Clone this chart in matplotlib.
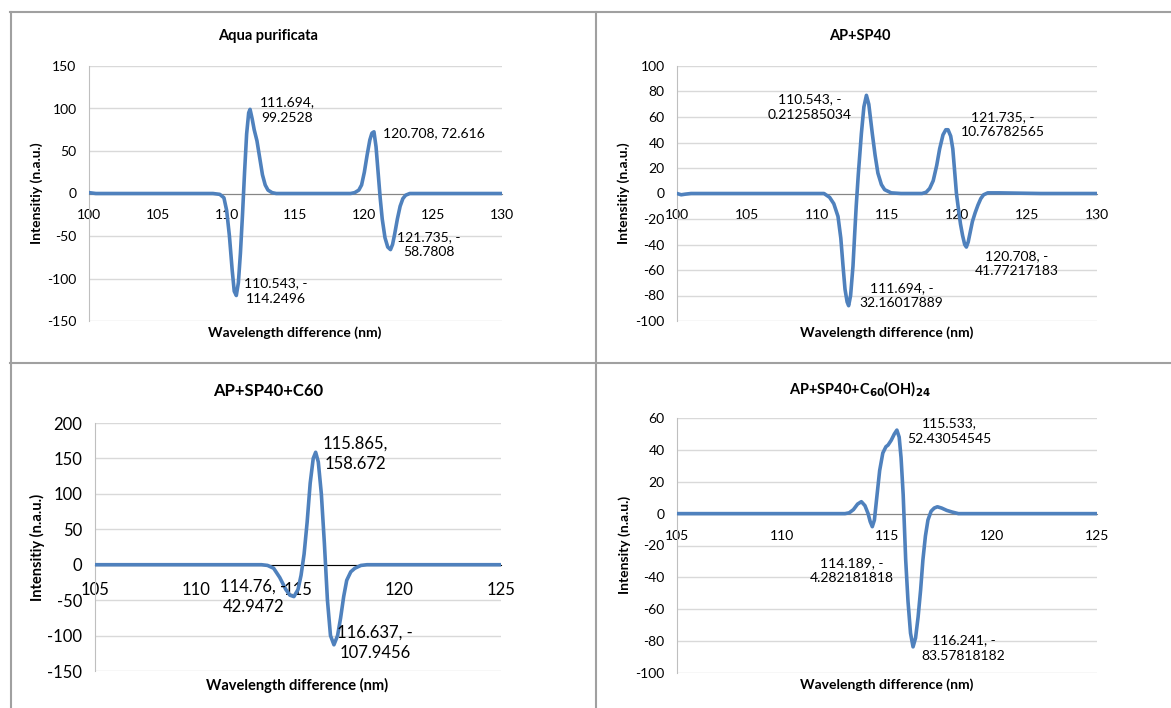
import matplotlib
matplotlib.use("Agg")
import matplotlib.pyplot as plt
from matplotlib.lines import Line2D

plt.rcParams['font.family'] = ['Lato', 'DejaVu Sans']
plt.rcParams['axes.unicode_minus'] = False

W, H = 1171, 708

# ---- data ----
aqua_x = [100, 100.5, 101, 102, 105, 108, 109, 109.5, 109.8, 110.0, 110.2, 110.4, 110.55, 110.7,
          110.85, 111.0, 111.15, 111.3, 111.45, 111.6, 111.7, 111.85, 112.0, 112.2, 112.4, 112.6,
          112.8, 113.0, 113.3, 113.6, 114, 116, 118, 119.0, 119.3, 119.6, 119.8, 120.0, 120.2, 120.4,
          120.55, 120.7, 120.85, 121.0, 121.15, 121.3, 121.5, 121.7, 121.9, 122.05, 122.2, 122.4,
          122.6, 122.8, 123.0, 123.3, 123.6, 124, 127, 130]
aqua_y = [1, 0, 0, 0, 0, 0, 0, -1, -5, -20, -50, -90, -115, -120,
          -105, -70, -25, 25, 70, 95, 99, 88, 75, 62, 42, 22,
          10, 4, 1, 0, 0, 0, 0, 0, 1, 4, 10, 25, 45, 63,
          71, 72.6, 55, 25, -5, -30, -52, -63, -66, -60, -48, -30,
          -15, -6, -2, 0, 0, 0, 0, 0]

sp40_x = [100, 100.3, 100.6, 101, 103, 106, 109, 110.5, 110.9, 111.2, 111.5, 111.7, 111.86, 112.0,
          112.15, 112.26, 112.4, 112.57, 112.7, 112.8, 112.95, 113.17, 113.35, 113.53, 113.7, 113.95,
          114.15, 114.35, 114.6, 114.83, 115.3, 116, 117.5, 117.8, 118.05, 118.3, 118.55, 118.76,
          119.0, 119.2, 119.36, 119.55, 119.7, 119.85, 119.96, 120.1, 120.25, 120.4, 120.55, 120.67,
          120.8, 120.95, 121.1, 121.3, 121.5, 121.7, 121.9, 122.2, 123, 126, 130]
sp40_y = [0, -1, -0.5, 0, 0, 0, 0, 0, -3, -8, -18, -35, -57, -75,
          -85, -88, -80, -57, -30, -10, 15, 47, 68, 77, 70, 47,
          30, 16, 7, 3, 0.5, 0, 0, 1, 4, 10, 22, 35,
          46, 50, 50, 45, 35, 15, 0, -12, -24, -33, -40, -42,
          -38, -30, -22, -15, -9, -4, -1, 0.5, 0.5, 0, 0]

c60_x = [105, 108, 111, 113.2, 113.5, 113.8, 114.1, 114.4, 114.6, 114.8, 115.0, 115.15, 115.3,
         115.45, 115.6, 115.75, 115.87, 116.0, 116.15, 116.3, 116.45, 116.6, 116.77, 116.95, 117.1,
         117.25, 117.4, 117.6, 117.8, 118.1, 118.4, 120, 122, 125]
c60_y = [0, 0, 0, 0, -1, -5, -18, -35, -43, -45, -35, -15, 15,
         60, 115, 150, 158.7, 145, 100, 30, -50, -100, -113, -100, -75,
         -45, -22, -10, -5, -1, 0, 0, 0, 0]

oh_x = [105, 108, 111, 113.0, 113.2, 113.4, 113.6, 113.78, 113.95, 114.1, 114.2, 114.3, 114.4,
        114.5, 114.65, 114.8, 114.95, 115.05, 115.2, 115.35, 115.47, 115.58, 115.67, 115.77, 115.89,
        116.0, 116.12, 116.24, 116.36, 116.48, 116.6, 116.71, 116.83, 116.95, 117.1, 117.25, 117.4,
        117.6, 117.85, 118.1, 118.4, 119, 122, 125]
oh_y = [0, 0, 0, 0, 0.5, 2.5, 6, 7.5, 5, 0, -5, -8.2, -4,
        8.5, 27, 38, 42, 43, 46, 50, 52.4, 48, 35, 12, -29,
        -55, -75, -83.6, -78, -65, -48, -29, -14, -4, 1.5, 3.5, 4.3,
        3.5, 2, 1, 0, 0, 0, 0]

# data labels: (text, x, y)
aqua_labels = [("111.694,\n99.2528", 114.4, 98), ("120.708, 72.616", 125.05, 71),
               ("110.543, -\n114.2496", 113.56, -115), ("121.735, -\n58.7808", 124.7, -60)]
sp40_labels = [("110.543, -\n0.212585034", 109.48, 68), ("111.694, -\n32.16017889", 116.03, -80),
               ("121.735, -\n10.76782565", 123.29, 54), ("120.708, -\n41.77217183", 124.24, -55)]
c60_labels = [("115.865,\n158.672", 117.84, 156), ("114.76, -\n42.9472", 112.8, -45),
              ("116.637, -\n107.9456", 118.81, -110)]
oh_labels = [("115.533,\n52.43054545", 117.99, 51.6), ("114.189, -\n4.282181818", 113.3, -35.8),
             ("116.241, -\n83.57818182", 118.65, -84.3)]

fig = plt.figure(figsize=(W / 100, H / 100), dpi=100)


def box(x0, y0, x1, y1):
    return [x0 / W, 1 - y1 / H, (x1 - x0) / W, (y1 - y0) / H]


def panel(rect, xs, ys, xlim, xticks, ylim, yticks, labels, fs, zero_color, xpad):
    ax = fig.add_axes(box(*rect))
    ax.plot(xs, ys, color='#4F81BD', lw=2.6, zorder=3)
    ax.set_xlim(xlim)
    ax.set_ylim(ylim)
    ax.set_xticks(xticks)
    ax.set_yticks(yticks)
    ax.grid(axis='y', color='#D9D9D9', lw=1)
    ax.set_axisbelow(True)
    for s in ['top', 'right']:
        ax.spines[s].set_visible(False)
    ax.spines['left'].set_color('#BFBFBF')
    ax.spines['bottom'].set_position(('data', 0))
    ax.spines['bottom'].set_color(zero_color)
    ax.spines['bottom'].set_zorder(2.5)
    ax.tick_params(axis='both', length=0, labelsize=fs)
    ax.tick_params(axis='y', pad=9)
    ax.tick_params(axis='x', pad=xpad)
    for t, lx, ly in labels:
        ax.text(lx, ly, t, ha='center', va='center', fontsize=fs, linespacing=1.35, zorder=4)
    return ax


panel((89, 66, 502, 321), aqua_x, aqua_y, (100, 130), range(100, 131, 5),
      (-150, 150), range(-150, 151, 50), aqua_labels, 10, '#868686', 11.5)
panel((677, 66, 1097, 321), sp40_x, sp40_y, (100, 130), range(100, 131, 5),
      (-100, 100), range(-100, 101, 20), sp40_labels, 10, '#868686', 11.5)
panel((95, 423, 501, 671), c60_x, c60_y, (105, 125), range(105, 126, 5),
      (-150, 200), range(-150, 201, 50), c60_labels, 12, '#000000', 12.5)
panel((677, 418, 1097, 673), oh_x, oh_y, (105, 125), range(105, 126, 5),
      (-100, 60), range(-100, 61, 20), oh_labels, 10, '#868686', 11.5)

# titles and axis titles
fig.text(268 / W, 1 - 36 / H, "Aqua purificata", ha='center', va='center', fontsize=10.5, weight='bold')
fig.text(860 / W, 1 - 36 / H, "AP+SP40", ha='center', va='center', fontsize=10.5, weight='bold')
fig.text(268 / W, 1 - 391 / H, "AP+SP40+C60", ha='center', va='center', fontsize=12, weight='bold')
fig.text(860 / W, 1 - 389 / H, r"AP+SP40+C$_{\mathbf{60}}$(OH)$_{\mathbf{24}}$", ha='center',
         va='center', fontsize=10.5, weight='bold')

for x, y, t, fs in [(37, 193, "Intensitiy (n.a.u.)", 10), (624, 193, "Intensitiy (n.a.u.)", 10),
                    (37, 547, "Intensitiy (n.a.u.)", 10.5), (625, 545, "Intensity (n.a.u.)", 10)]:
    fig.text(x / W, 1 - y / H, t, rotation=90, ha='center', va='center', fontsize=fs, weight='bold')

for x, y, fs in [(295, 333, 10), (887, 333, 10), (297, 685, 10.5), (887, 685, 10)]:
    fig.text(x / W, 1 - y / H, "Wavelength difference (nm)", ha='center', va='center',
             fontsize=fs, weight='bold')

# panel frame lines
for xd, yd in [((10, W), (12, 12)), ((10, W), (363, 363)), ((10.5, 10.5), (12, H)), ((596, 596), (12, H))]:
    fig.add_artist(Line2D([v / W for v in xd], [1 - v / H for v in yd], color='#A0A0A0', lw=1.5))

fig.savefig("out.png", dpi=100)
